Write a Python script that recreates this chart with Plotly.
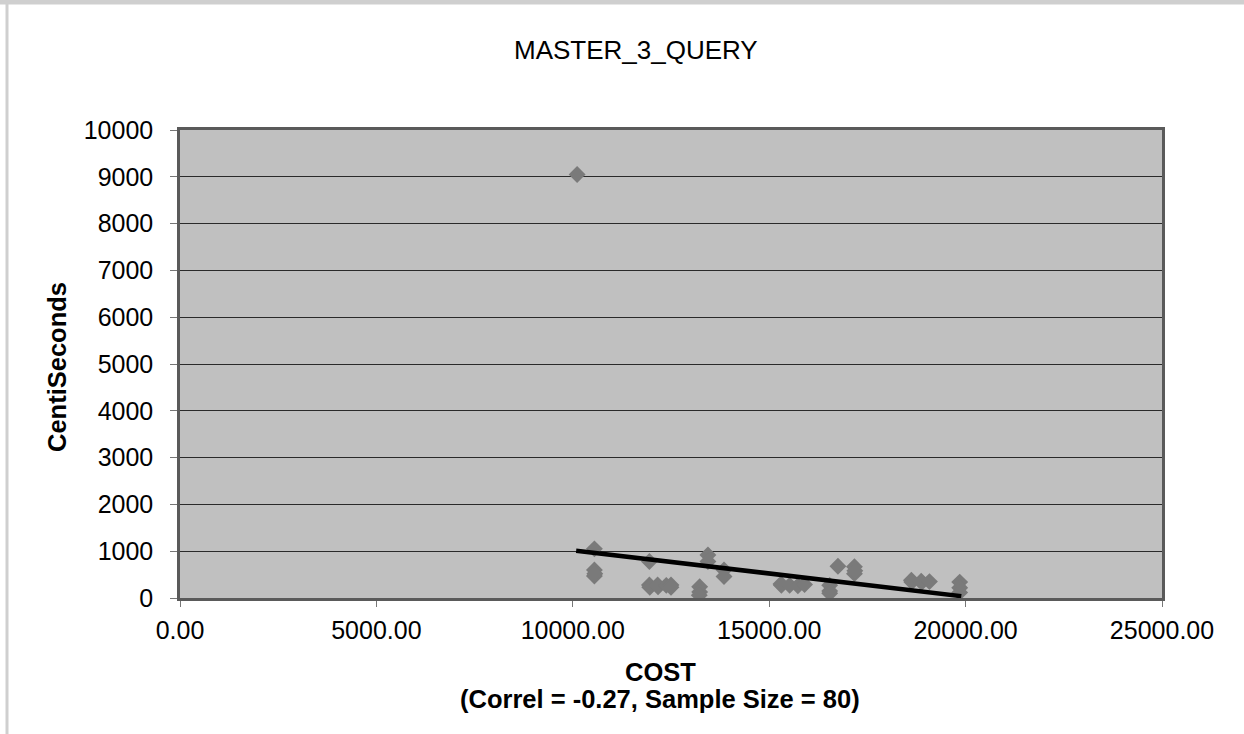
import plotly.graph_objects as go

# Data
cost = [10110, 10550, 10550, 10550, 10560, 11950, 11950, 11960, 12160, 12170,
        12380, 12500, 12500, 13230, 13230, 13220, 13440, 13440, 13850, 13850,
        15300, 15310, 15520, 15730, 15900, 16540, 16540, 16540, 16750, 17170,
        17170, 17180, 18620, 18630, 18870, 18880, 19080, 19850, 19850, 19850]
centisec = [9050, 1050, 600, 470, 520, 780, 280, 230, 280, 240,
            270, 280, 230, 240, 130, 60, 920, 780, 600, 460,
            300, 270, 270, 260, 290, 270, 150, 100, 680, 670,
            520, 580, 380, 340, 360, 330, 350, 340, 220, 120]

trend_x = [10085, 19890]
trend_y = [1010, 40]

x_ticks = [0, 5000, 10000, 15000, 20000, 25000]
y_ticks = [0, 1000, 2000, 3000, 4000, 5000, 6000, 7000, 8000, 9000, 10000]

FONT = "Liberation Sans, Arial, sans-serif"

W, H = 1244, 734
L, R, T, B = 180, 82, 130, 136
PW, PH = W - L - R, H - T - B


def px_x(px):
    return (px - L) / PW


def px_y(py):
    return (H - B - py) / PH


fig = go.Figure()
fig.add_trace(go.Scatter(
    x=cost, y=centisec, mode="markers",
    marker=dict(symbol="diamond", size=13, color="#7a7a7a", line=dict(width=0)),
    showlegend=False))
fig.add_trace(go.Scatter(
    x=trend_x, y=trend_y, mode="lines",
    line=dict(color="black", width=4.5), showlegend=False))

fig.update_layout(
    width=W, height=H,
    margin=dict(l=L, r=R, t=T, b=B),
    paper_bgcolor="white", plot_bgcolor="#c0c0c0",
    font=dict(family=FONT, color="black"),
    xaxis=dict(range=[0, 25000], tickvals=x_ticks,
               ticktext=[f"{v:.2f}" for v in x_ticks],
               ticks="outside", ticklen=6, tickcolor="#777", tickwidth=1,
               showgrid=False, zeroline=False,
               showline=True, linecolor="#5a5a5a", linewidth=2.5, mirror=True,
               tickfont=dict(size=25, family=FONT),
               ticklabelstandoff=2),
    yaxis=dict(range=[0, 10000], tickvals=y_ticks,
               ticktext=[str(v) for v in y_ticks],
               ticks="outside", ticklen=7, tickcolor="#777", tickwidth=1,
               showgrid=True, gridcolor="#2a2a2a", gridwidth=1, zeroline=False,
               showline=True, linecolor="#5a5a5a", linewidth=2.5, mirror=True,
               tickfont=dict(size=25, family=FONT),
               ticklabelstandoff=12),
)

# title
fig.add_annotation(text="MASTER_3_QUERY", xref="paper", yref="paper",
                   x=px_x(635.5), y=px_y(50), xanchor="center", yanchor="middle",
                   showarrow=False, font=dict(size=26, family=FONT))
# y axis title
fig.add_annotation(text="<b>CentiSeconds</b>", xref="paper", yref="paper",
                   x=px_x(57), y=px_y(367), xanchor="center", yanchor="middle",
                   textangle=-90, showarrow=False, font=dict(size=25.5, family=FONT))
# x axis title (two lines)
fig.add_annotation(text="<b>COST</b>", xref="paper", yref="paper",
                   x=px_x(660), y=px_y(672), xanchor="center", yanchor="middle",
                   showarrow=False, font=dict(size=25.5, family=FONT))
fig.add_annotation(text="<b>(Correl = -0.27, Sample Size = 80)</b>", xref="paper", yref="paper",
                   x=px_x(660), y=px_y(699), xanchor="center", yanchor="middle",
                   showarrow=False, font=dict(size=25.5, family=FONT))

# light outer frame of the chart (left and top edges)
fig.add_shape(type="line", xref="paper", yref="paper",
              x0=px_x(7), x1=px_x(7), y0=px_y(734), y1=px_y(2),
              line=dict(color="#cfcfcf", width=3), layer="below")
fig.add_shape(type="line", xref="paper", yref="paper",
              x0=px_x(0), x1=px_x(1244), y0=px_y(2), y1=px_y(2),
              line=dict(color="#cfcfcf", width=5), layer="below")

fig.write_html("out.html", config={"displayModeBar": False},
               post_script="document.body.style.margin='0';")
